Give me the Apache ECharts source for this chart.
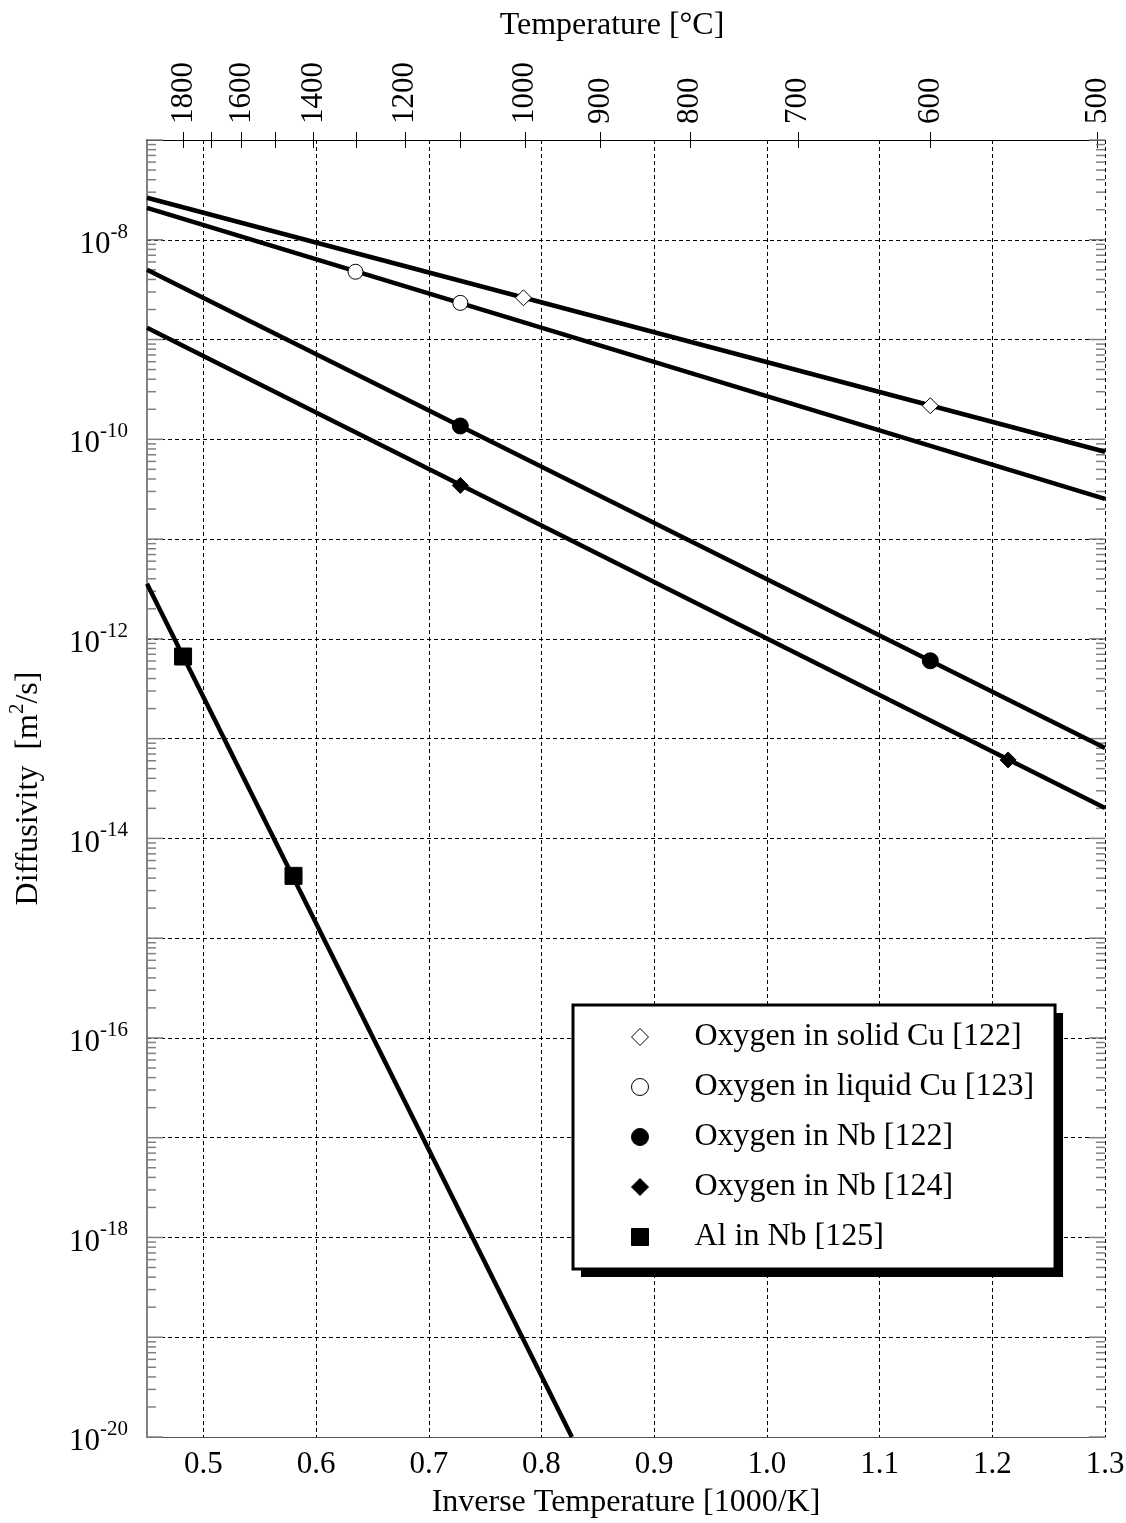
<!DOCTYPE html>
<html>
<head>
<meta charset="utf-8">
<script src="https://cdn.jsdelivr.net/npm/echarts@6/dist/echarts.min.js"></script>
<style>
  html, body { margin: 0; padding: 0; background: #fff; }
  #chart { width: 1126px; height: 1523px; }
</style>
</head>
<body>
<div id="chart"></div>
<script>
const FONT = '"Liberation Serif", "Times New Roman", serif';

// Bottom axis: inverse temperature [1000/K]
const X_MIN = 0.45;
const X_MAX = 1.3;
const invTempTicks = [0.5, 0.6, 0.7, 0.8, 0.9, 1.0, 1.1, 1.2, 1.3];

// Top axis: temperature in degrees Celsius (ticks and the labelled subset)
const celsiusTicks = [1800, 1700, 1600, 1500, 1400, 1300, 1200, 1100, 1000, 900, 800, 700, 600, 500];
const celsiusLabels = [1800, 1600, 1400, 1200, 1000, 900, 800, 700, 600, 500];

// Diffusivity range [m^2/s]
const Y_MIN = 1e-20;
const Y_MAX = 1e-7;

// Legend names
const names = [
  'Oxygen in solid Cu [122]',
  'Oxygen in liquid Cu [123]',
  'Oxygen in Nb [122]',
  'Oxygen in Nb [124]',
  'Al in Nb [125]'
];

// Arrhenius lines: [1000/K, D (m^2/s)] at the ends of each line
const solidCuLine  = [[0.45, 2.64e-8], [1.30, 7.5e-11]];
const liquidCuLine = [[0.45, 2.09e-8], [1.30, 2.53e-11]];
const nb122Line    = [[0.45, 5.0e-9],  [1.30, 8.07e-14]];
const nb124Line    = [[0.45, 1.31e-9], [1.30, 2.02e-14]];
const alNbLine     = [[0.45, 3.56e-12], [0.827, 1e-20]];

// Marked points on each line
const solidCuPts  = [[0.784, 2.62e-9], [1.145, 2.17e-10]];
const liquidCuPts = [[0.635, 4.78e-9], [0.728, 2.33e-9]];
const nb122Pts    = [[0.728, 1.36e-10], [1.145, 6.03e-13]];
const nb124Pts    = [[0.728, 3.45e-11], [1.214, 6.12e-14]];
const alNbPts     = [[0.482, 6.65e-13], [0.580, 4.21e-15]];

const lines = [solidCuLine, liquidCuLine, nb122Line, nb124Line, alNbLine];
const points = [solidCuPts, liquidCuPts, nb122Pts, nb124Pts, alNbPts];
const symbols = ['diamond', 'circle', 'circle', 'diamond', 'rect'];
const symbolSizes = [16, 15, 16, 16, 17];
const fills = ['#fff', '#fff', '#000', '#000', '#000'];

// Logarithmic minor ticks (1..9 x 10^k) for the inner ticks on both vertical edges
const logTicks = [];
for (let k = -20; k <= -8; k++) {
  for (let m = 1; m <= 9; m++) logTicks.push([m, m * Math.pow(10, k)]);
}
logTicks.push([1, 1e-7]);

const celsiusToInv = t => 1000 / (t + 273.15);

const chart = echarts.init(document.getElementById('chart'), null, { renderer: 'canvas' });

const series = [];
lines.forEach((d, i) => {
  series.push({
    name: names[i] + ' fit',
    type: 'line',
    data: d,
    xAxisIndex: 0,
    yAxisIndex: 0,
    symbol: 'none',
    showSymbol: false,
    lineStyle: { color: '#000', width: 4.5 },
    silent: true,
    z: 3
  });
});
points.forEach((d, i) => {
  series.push({
    name: names[i],
    type: 'scatter',
    data: d,
    xAxisIndex: 0,
    yAxisIndex: 0,
    symbol: symbols[i],
    symbolSize: symbolSizes[i],
    itemStyle: { color: fills[i], borderColor: '#000', borderWidth: 1, opacity: 1 },
    z: 5
  });
});
series.push({
  type: 'custom',
  xAxisIndex: 0,
  yAxisIndex: 0,
  silent: true,
  clip: false,
  z: 2,
  data: logTicks,
  encode: { x: 0, y: 1 },
  renderItem: function (params, api) {
    const m = api.value(0);
    const v = api.value(1);
    const l = api.coord([X_MIN, v]);
    const r = api.coord([X_MAX, v]);
    const len = m === 1 ? 16 : 9;
    const st = { stroke: '#808080', lineWidth: 1.5 };
    return {
      type: 'group',
      children: [
        { type: 'line', shape: { x1: l[0], y1: l[1], x2: l[0] + len, y2: l[1] }, style: st },
        { type: 'line', shape: { x1: r[0] - len, y1: r[1], x2: r[0], y2: r[1] }, style: st }
      ]
    };
  }
});

const gridDash = { color: '#000', width: 1, type: [4, 3] };

const topAxisBase = {
  type: 'value',
  position: 'top',
  min: X_MIN,
  max: X_MAX,
  gridIndex: 0,
  splitLine: { show: false },
  axisLine: { show: true, lineStyle: { color: '#000', width: 1 } }
};

// Legend box and its solid drop shadow share the same content and padding
const legendBase = {
  data: names,
  orient: 'vertical',
  padding: [16, 21, 16, 58],
  itemGap: 18,
  itemWidth: 17,
  itemHeight: 17,
  borderRadius: 0,
  selectedMode: false,
  itemStyle: { borderWidth: 1 },
  textStyle: { fontFamily: FONT, fontSize: 32, color: '#000', padding: [0, 0, 0, 41] }
};

const option = {
  animation: false,
  backgroundColor: '#fff',
  textStyle: { fontFamily: FONT, color: '#000' },
  grid: { left: 147, right: 21, top: 140, bottom: 86, containLabel: false, outerBoundsMode: 'none' },
  xAxis: [
    {
      type: 'value',
      position: 'bottom',
      min: X_MIN,
      max: X_MAX,
      name: 'Inverse Temperature [1000/K]',
      nameLocation: 'middle',
      nameGap: 50,
      nameTextStyle: { fontFamily: FONT, fontSize: 32, color: '#000' },
      axisLine: { show: true, onZero: false, lineStyle: { color: '#555', width: 1 } },
      axisTick: { show: false, customValues: invTempTicks },
      axisLabel: {
        customValues: invTempTicks,
        formatter: v => v.toFixed(1),
        fontFamily: FONT, fontSize: 31, color: '#000', margin: 12
      },
      splitLine: { show: true, lineStyle: gridDash }
    },
    Object.assign({}, topAxisBase, {
      name: 'Temperature [°C]',
      nameLocation: 'middle',
      nameGap: 98,
      nameTextStyle: { fontFamily: FONT, fontSize: 32, color: '#000', padding: [0, 28, 0, 0] },
      axisTick: { show: true, inside: false, length: 8, customValues: celsiusTicks.map(celsiusToInv), lineStyle: { color: '#000', width: 1 } },
      axisLabel: {
        customValues: celsiusLabels.map(celsiusToInv),
        formatter: v => String(Math.round(1000 / v - 273.15)),
        rotate: -90,
        margin: 16,
        fontFamily: FONT, fontSize: 31, color: '#000'
      }
    }),
    Object.assign({}, topAxisBase, {
      axisTick: { show: true, inside: true, length: 8, customValues: celsiusTicks.map(celsiusToInv), lineStyle: { color: '#000', width: 1 } },
      axisLabel: { show: false }
    })
  ],
  yAxis: [
    {
      type: 'log',
      logBase: 10,
      min: Y_MIN,
      max: Y_MAX,
      interval: 1,
      position: 'left',
      name: '{a|Diffusivity  [m}{s|2}{a|/s]}',
      nameLocation: 'middle',
      nameGap: 96,
      nameRotate: 90,
      nameTextStyle: {
        rich: {
          a: { fontFamily: FONT, fontSize: 32, color: '#000', lineHeight: 44 },
          s: { fontFamily: FONT, fontSize: 21, color: '#000', lineHeight: 22, verticalAlign: 'top' }
        }
      },
      axisLine: { show: true, onZero: false, lineStyle: { color: '#808080', width: 2 } },
      axisTick: { show: false },
      axisLabel: {
        margin: 19,
        padding: [10, 0, 0, 0],
        formatter: v => {
          const e = Math.round(Math.log10(v));
          return e % 2 === 0 ? '{b|10}{s|' + e + '}' : '';
        },
        rich: {
          b: { fontFamily: FONT, fontSize: 31, color: '#000', lineHeight: 46 },
          s: { fontFamily: FONT, fontSize: 21, color: '#000', lineHeight: 22, verticalAlign: 'top' }
        }
      },
      splitLine: { show: true, lineStyle: gridDash }
    }
  ],
  legend: [
    Object.assign({}, legendBase, {
      left: 581,
      top: 1013,
      z: 9,
      backgroundColor: '#000',
      borderWidth: 0
    }),
    Object.assign({}, legendBase, {
      left: 573,
      top: 1005,
      z: 10,
      backgroundColor: '#fff',
      borderColor: '#000',
      borderWidth: 3
    })
  ],
  series: series
};

chart.setOption(option);
</script>
</body>
</html>
